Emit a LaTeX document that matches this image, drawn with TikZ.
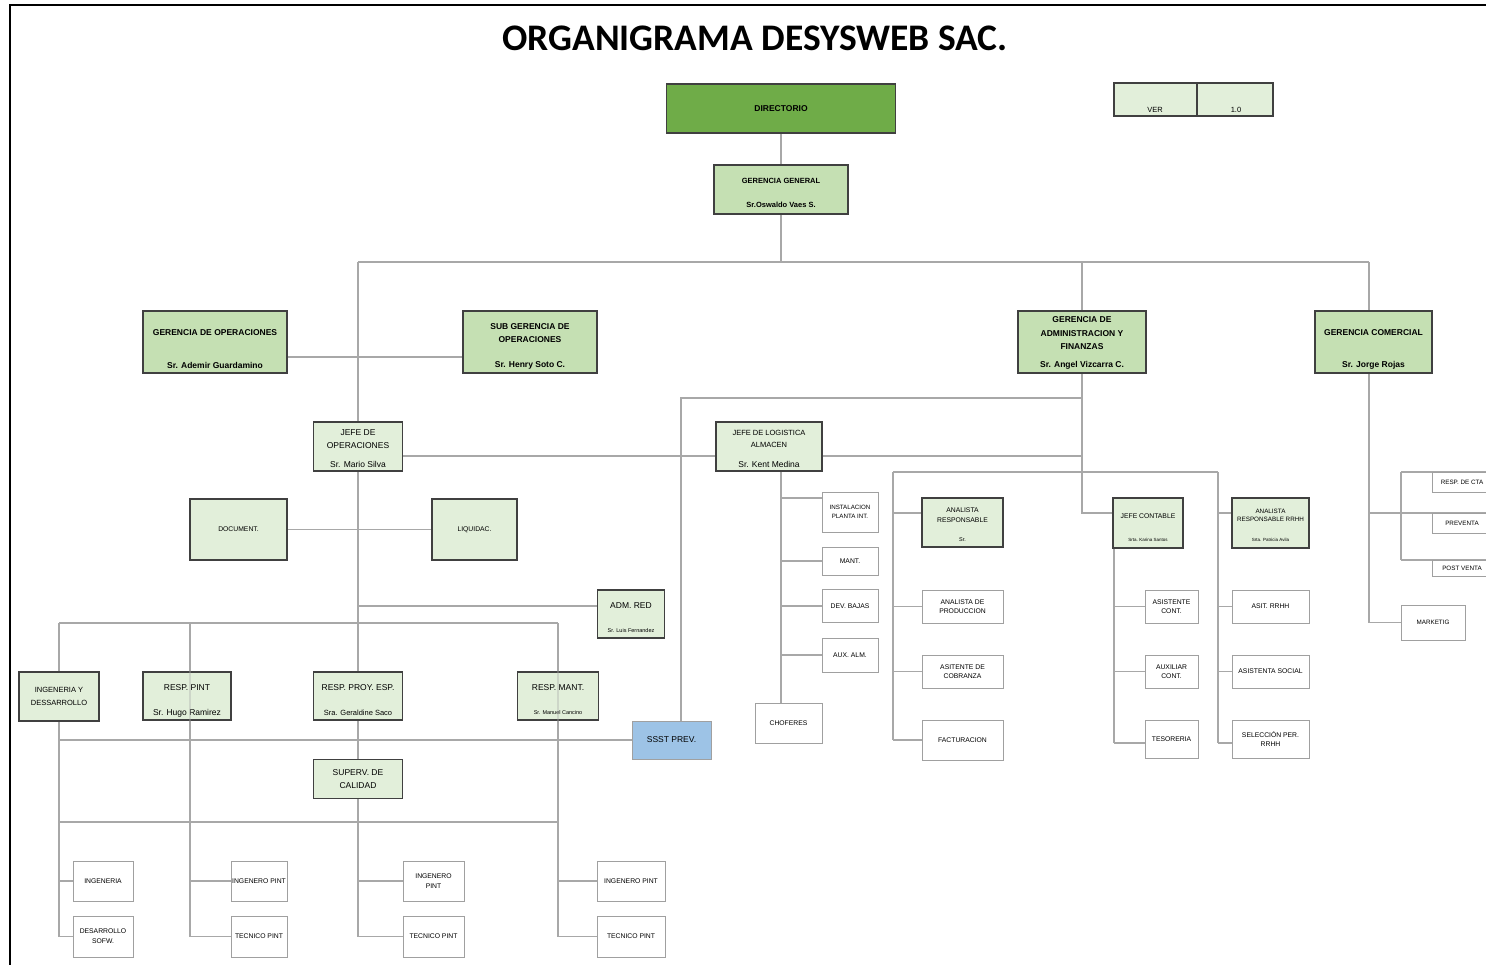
\documentclass[tikz,border=0pt]{standalone}
\usepackage{fontspec}
\setmainfont{Liberation Sans}
\newfontfamily\titlefont{Carlito}
\usetikzlibrary{backgrounds}

\definecolor{gdark}{HTML}{6FAC48}
\definecolor{gmid}{HTML}{C5E0B3}
\definecolor{glight}{HTML}{E2EFDA}
\definecolor{bline}{HTML}{404040}
\definecolor{wline}{HTML}{A0A0A0}
\definecolor{lncol}{HTML}{A8A8A8}
\definecolor{ssstblue}{HTML}{9DC3E6}

\begin{document}
\begin{tikzpicture}[x=1pt, y=-1pt,
    conn/.style={draw=lncol, line width=1.2pt},
    dbox/.style={draw=bline, line width=1.5pt, fill=gdark, inner sep=0pt},
    gbox/.style={draw=bline, line width=1.5pt, fill=gmid, inner sep=0pt},
    jbox/.style={draw=bline, line width=1.3pt, fill=glight, inner sep=0pt},
    wbox/.style={draw=wline, line width=1pt, fill=white, inner sep=0pt},
    sbox/.style={draw=wline, line width=1pt, fill=ssstblue, inner sep=0pt},
    titulo/.style={font=\titlefont\bfseries\fontsize{37.5}{42}\selectfont},
    ttl/.style={font=\bfseries\fontsize{8.5}{10}\selectfont, align=center, inner sep=0pt},
    txt/.style={font=\fontsize{8.5}{10}\selectfont, align=center, inner sep=0pt},
    sml/.style={font=\fontsize{6.8}{8}\selectfont, align=center, inner sep=0pt},
    tny/.style={font=\fontsize{5.5}{6.5}\selectfont, align=center, inner sep=0pt},
    sz/.style 2 args={minimum width=#1pt, minimum height=#2pt}]
    \useasboundingbox (0,0) rectangle (1486,965);
    \draw[line width=2pt] (10,965) -- (10,5) -- (1486,5); % marco

    \node[titulo] (titulo) at (755,38) {ORGANIGRAMA DESYSWEB SAC.};

    % cabecera
    \node[dbox, ttl, sz={229}{49}] (dir) at (781,108.5) {DIRECTORIO};
    \node[jbox, sz={83}{33}] (ver) at (1155.5,99.5) {};
    \node[jbox, sz={76}{33}] (vernum) at (1235,99.5) {};
    \node[txt, font=\fontsize{7.5}{9}\selectfont] (vert) at (1155,110) {VER};
    \node[txt, font=\fontsize{7.5}{9}\selectfont] (vernumt) at (1236,110) {1.0};
    \node[gbox, sz={134}{49}] (gg) at (781,189.5) {};
    \node[ttl, font=\bfseries\fontsize{7.5}{9}\selectfont] (ggt) at (781,181) {GERENCIA GENERAL};
    \node[ttl, font=\bfseries\fontsize{7.5}{9}\selectfont] (ggn) at (781,205) {Sr.Oswaldo Vaes S.};

    % gerencias
    \node[gbox, sz={144}{62}] (gop) at (215,342) {};
    \node[ttl] (gopt) at (215,333) {GERENCIA DE OPERACIONES};
    \node[ttl] (gopn) at (215,365) {Sr. Ademir Guardamino};
    \node[gbox, sz={134}{62}] (sgop) at (530,342) {};
    \node[ttl] (sgopt) at (530,333.5) {SUB GERENCIA DE\\[3pt]OPERACIONES};
    \node[ttl] (sgopn) at (530,365) {Sr. Henry Soto C.};
    \node[gbox, sz={128}{62}] (gaf) at (1082,342) {};
    \node[ttl] (gaft) at (1082,333.5) {GERENCIA DE\\[3.5pt]ADMINISTRACION Y\\[3.5pt]FINANZAS};
    \node[ttl] (gafn) at (1082,365) {Sr. Angel Vizcarra C.};
    \node[gbox, sz={117}{62}] (gcom) at (1373.5,342) {};
    \node[ttl] (gcomt) at (1373.5,333) {GERENCIA COMERCIAL};
    \node[ttl] (gcomn) at (1373.5,365) {Sr. Jorge Rojas};

    % jefaturas
    \node[jbox, sz={89}{49}] (jop) at (358,446.5) {};
    \node[txt] (jopt) at (358,439.5) {JEFE DE\\[3pt]OPERACIONES};
    \node[txt] (jopn) at (358,464) {Sr. Mario Silva};
    \node[jbox, sz={106}{49}] (jlog) at (769,446.5) {};
    \node[txt, font=\fontsize{7.5}{9}\selectfont] (jlogt) at (769,439) {JEFE DE LOGISTICA\\[3pt]ALMACEN};
    \node[txt] (jlogn) at (769,464) {Sr. Kent Medina};
    \node[jbox, sml, sz={97}{61}] (doc) at (238.5,529.5) {DOCUMENT.};
    \node[jbox, sml, sz={85}{61}] (liq) at (474.5,529.5) {LIQUIDAC.};
    \node[jbox, sz={67}{48}] (admred) at (631,614) {};
    \node[txt] (admredt) at (631,606) {ADM. RED};
    \node[tny] (admredn) at (631,631) {Sr. Luis Fernandez};

    % operaciones
    \node[jbox, txt, font=\fontsize{7.5}{9}\selectfont, sz={80}{49}] (ingdes) at (59,696.5) {INGENERIA Y\\[4pt]DESSARROLLO};
    \node[jbox, sz={88}{48}] (rpint) at (187,696) {};
    \node[txt] (rpintt) at (187,688) {RESP. PINT};
    \node[txt] (rpintn) at (187,713) {Sr. Hugo Ramirez};
    \node[jbox, sz={89}{48}] (rproy) at (358,696) {};
    \node[txt] (rproyt) at (358,688) {RESP. PROY. ESP.};
    \node[txt, font=\fontsize{7.5}{9}\selectfont] (rproyn) at (358,713) {Sra. Geraldine Saco};
    \node[jbox, sz={81}{48}] (rmant) at (558,696) {};
    \node[txt] (rmantt) at (558,688) {RESP. MANT.};
    \node[tny] (rmantn) at (558,712.5) {Sr. Manuel Cancino};
    \node[sbox, txt, sz={79}{38}] (ssst) at (671.5,740) {SSST PREV.};
    \node[jbox, txt, sz={89}{39}] (superv) at (358,779) {SUPERV. DE\\[3pt]CALIDAD};

    \node[wbox, sml, sz={60}{40}] (ing) at (103,881) {INGENERIA};
    \node[wbox, sml, sz={60}{41}] (dsofw) at (103,936.5) {DESARROLLO\\[2pt]SOFW.};
    \node[wbox, sml, sz={56}{40}] (ipint1) at (259,881) {INGENERO PINT};
    \node[wbox, sml, sz={56}{41}] (tpint1) at (259,936.5) {TECNICO PINT};
    \node[wbox, sml, sz={61}{40}] (ipint2) at (433.5,881) {INGENERO\\[2pt]PINT};
    \node[wbox, sml, sz={61}{41}] (tpint2) at (433.5,936.5) {TECNICO PINT};
    \node[wbox, sml, sz={68}{40}] (ipint3) at (631,881) {INGENERO PINT};
    \node[wbox, sml, sz={68}{41}] (tpint3) at (631,936.5) {TECNICO PINT};

    % logistica
    \node[wbox, sml, font=\fontsize{6.2}{7.5}\selectfont, sz={56}{40}] (inst) at (850,512) {INSTALACION\\[1pt]PLANTA INT.};
    \node[wbox, sml, sz={56}{28}] (mant) at (850,561) {MANT.};
    \node[wbox, sml, sz={56}{33}] (dev) at (850,606) {DEV. BAJAS};
    \node[wbox, sml, sz={56}{34}] (aux) at (850,655) {AUX. ALM.};
    \node[wbox, sml, sz={67}{40}] (chof) at (788.5,723) {CHOFERES};

    % administracion
    \node[jbox, sz={81}{49}] (anresp) at (962.5,522.5) {};
    \node[sml] (anrespt) at (962.5,515.5) {ANALISTA\\[2pt]RESPONSABLE};
    \node[tny] (anrespn) at (962.5,540) {Sr.};
    \node[wbox, sml, sz={81}{33}] (anprod) at (962.5,606.5) {ANALISTA DE\\[1pt]PRODUCCION};
    \node[wbox, sml, sz={81}{33}] (ascob) at (962.5,671.5) {ASITENTE DE\\[1pt]COBRANZA};
    \node[wbox, sml, sz={81}{40}] (fact) at (962.5,740) {FACTURACION};

    \node[jbox, sz={70}{50}] (jcont) at (1148,523) {};
    \node[sml] (jcontt) at (1148,516) {JEFE CONTABLE};
    \node[tny, font=\fontsize{4.5}{5.5}\selectfont] (jcontn) at (1148,540) {Srta. Karina Santos};
    \node[wbox, sml, sz={53}{33}] (asicont) at (1171.5,606.5) {ASISTENTE\\[1pt]CONT.};
    \node[wbox, sml, sz={53}{33}] (auxcont) at (1171.5,671.5) {AUXILIAR\\[1pt]CONT.};
    \node[wbox, sml, sz={53}{38}] (teso) at (1171.5,739) {TESORERIA};

    \node[jbox, sz={77}{50}] (anrrhh) at (1270.5,523) {};
    \node[tny, font=\fontsize{6.3}{7.5}\selectfont] (anrrhht) at (1270.5,515.5) {ANALISTA\\[1pt]RESPONSABLE RRHH};
    \node[tny, font=\fontsize{4.5}{5.5}\selectfont] (anrrhhn) at (1270.5,540) {Srta. Patricia Avila};
    \node[wbox, sml, sz={77}{33}] (asitrrhh) at (1270.5,606.5) {ASIT. RRHH};
    \node[wbox, sml, sz={77}{33}] (asocial) at (1270.5,671.5) {ASISTENTA SOCIAL};
    \node[wbox, sml, sz={77}{38}] (selec) at (1270.5,739) {SELECCIÓN PER.\\[1pt]RRHH};

    % comercial
    \node[wbox, tny, font=\fontsize{6.3}{7.5}\selectfont, sz={60}{20}] (rcta) at (1462,482) {RESP. DE CTA};
    \node[wbox, tny, font=\fontsize{6.3}{7.5}\selectfont, sz={60}{20}] (prev) at (1462,523) {PREVENTA};
    \node[wbox, tny, font=\fontsize{6.3}{7.5}\selectfont, sz={60}{16}] (postv) at (1462,568) {POST VENTA};
    \node[wbox, tny, font=\fontsize{6.3}{7.5}\selectfont, sz={64}{35}] (mkt) at (1433,622.5) {MARKETIG};

    \coordinate (busL) at (358,262);
    \coordinate (busA) at (1082,262);
    \coordinate (busR) at (1369,262);
    \coordinate (logL) at (681,398);
    \coordinate (logR) at (1082,398);
    \coordinate (anaL) at (893,472);
    \coordinate (anaR) at (1218,472);
    \coordinate (ingL) at (59,623);
    \coordinate (ingR) at (558,623);
    \coordinate (pintT) at (190,623);
    \coordinate (supL) at (59,822);
    \coordinate (supR) at (558,822);
    \coordinate (logV) at (781,471);
    \coordinate (contV) at (1114,548);
    \coordinate (comT) at (1401,472);
    \coordinate (comB) at (1401,560);
    \coordinate (comE) at (1486,513);

    \begin{pgfonlayer}{background}
    \draw[conn] (dir) -- (gg);
    \draw[conn] (gg.south) -- (gg.south |- busL);
    \draw[conn] (busL) -- (busR);
    \draw[conn] (busA) -- (gaf);
    \draw[conn] (busR) -- (gcom.north -| busR);
    \draw[conn] (busL) -- (jop) -- (rproy) -- (superv) -- (superv |- tpint2);
    \draw[conn] (gop.east |- 0,357) -- (sgop.west |- 0,357);
    \draw[conn] (doc) -- (liq);
    \draw[conn] (jop.east |- 0,456) -- (jlog.west |- 0,456);
    \draw[conn] (jlog.east |- 0,456) -- (gaf.south |- 0,456);
    \draw[conn] (gaf) -- (gaf.south |- 0,513) -- (jcont.west |- 0,513);
    \draw[conn] (logR) -- (logL) -- (logL |- ssst.north);
    \draw[conn] (jop |- 0,606) -- (admred.west |- 0,606);
    % operaciones
    \draw[conn] (ingL) -- (ingR);
    \draw[conn] (ingL) -- (ingdes) -- (ingdes |- dsofw);
    \draw[conn] (ingdes |- ing) -- (ing);
    \draw[conn] (ingdes |- dsofw) -- (dsofw);
    \draw[conn] (pintT) -- (pintT |- tpint1);
    \draw[conn] (pintT |- ipint1) -- (ipint1);
    \draw[conn] (pintT |- tpint1) -- (tpint1);
    \draw[conn] (superv |- ipint2) -- (ipint2);
    \draw[conn] (superv |- tpint2) -- (tpint2);
    \draw[conn] (ingR) -- (ingR |- tpint3);
    \draw[conn] (ingR |- ipint3) -- (ipint3);
    \draw[conn] (ingR |- tpint3) -- (tpint3);
    \draw[conn] (ingdes |- ssst) -- (ssst);
    \draw[conn] (supL) -- (supR);
    % logistica
    \draw[conn] (logV) -- (logV |- chof.north);
    \draw[conn] (logV |- 0,498) -- (inst.west |- 0,498);
    \draw[conn] (logV |- mant) -- (mant);
    \draw[conn] (logV |- dev) -- (dev);
    \draw[conn] (logV |- aux) -- (aux);
    % administracion
    \draw[conn] (anaL) -- (anaR);
    \draw[conn] (anaL) -- (anaL |- fact);
    \draw[conn] (anaL |- 0,513) -- (anresp.west |- 0,513);
    \draw[conn] (anaL |- anprod) -- (anprod);
    \draw[conn] (anaL |- ascob) -- (ascob);
    \draw[conn] (anaL |- fact) -- (fact);
    \draw[conn] (contV) -- (contV |- 0,743);
    \draw[conn] (contV |- asicont) -- (asicont);
    \draw[conn] (contV |- auxcont) -- (auxcont);
    \draw[conn] (contV |- 0,743) -- (teso.west |- 0,743);
    \draw[conn] (anaR) -- (anaR |- 0,743);
    \draw[conn] (anaR |- 0,513) -- (anrrhh.west |- 0,513);
    \draw[conn] (anaR |- asitrrhh) -- (asitrrhh);
    \draw[conn] (anaR |- asocial) -- (asocial);
    \draw[conn] (anaR |- 0,743) -- (selec.west |- 0,743);
    % comercial
    \draw[conn] (gcom.south -| busR) -- (busR |- mkt) -- (mkt);
    \draw[conn] (busR |- comE) -- (comE);
    \draw[conn] (comT) -- (comB);
    \draw[conn] (comT) -- (comT -| comE);
    \draw[conn] (comB) -- (comB -| comE);
    \end{pgfonlayer}

    \draw[conn, opacity=.35] (pintT |- rpint.north) -- (pintT |- rpint.south);
    \draw[conn, opacity=.35] (ingR |- rmant.north) -- (ingR |- rmant.south);
\end{tikzpicture}
\end{document}
